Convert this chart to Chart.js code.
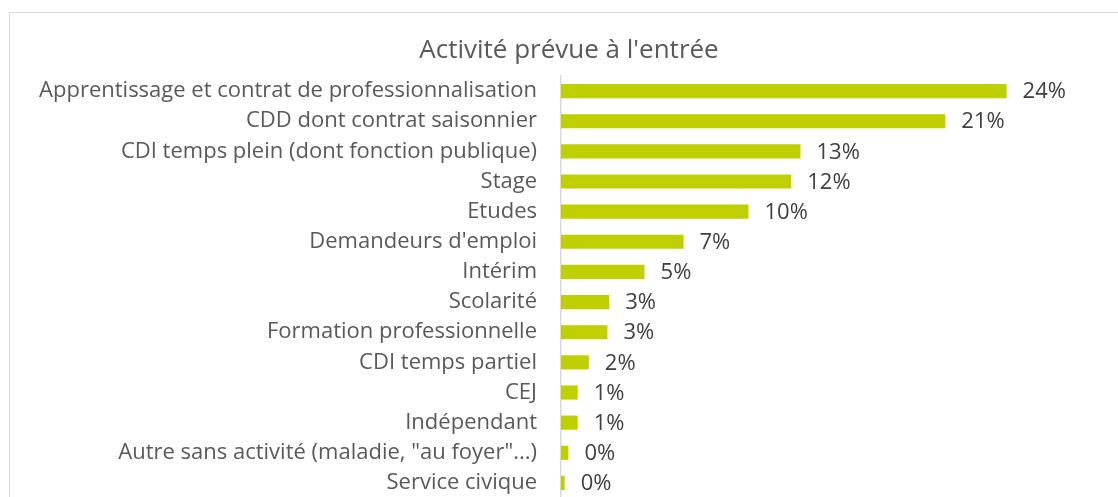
<!DOCTYPE html>
<html><head><meta charset="utf-8">
<script src="https://cdn.jsdelivr.net/npm/chart.js@4.4.1/dist/chart.umd.min.js"></script>
<style>
html,body{margin:0;padding:0;background:#fff;overflow:hidden;width:1118px;height:497px;}
#frame{position:absolute;left:9px;top:12px;width:1130px;height:520px;border:1.5px solid #d9d9d9;box-sizing:border-box;}
#wrap{position:absolute;left:0;top:0;width:1118px;height:498px;}
</style></head><body>
<div id="frame"></div>
<div id="wrap"><canvas id="c"></canvas></div>
<script>
const categories = ["Apprentissage et contrat de professionnalisation","CDD dont contrat saisonnier","CDI temps plein (dont fonction publique)","Stage","Etudes","Demandeurs d'emploi","Intérim","Scolarité","Formation professionnelle","CDI temps partiel","CEJ","Indépendant","Autre sans activité (maladie, \"au foyer\"...)","Service civique"];
const values = [24.0, 20.7, 12.9, 12.4, 10.1, 6.6, 4.5, 2.6, 2.5, 1.5, 0.9, 0.9, 0.4, 0.2];
const titleText = "Activité prévue à l'entrée";
const FONT = "'Open Sans', 'Noto Sans', sans-serif";

const valueLabels = {
  id: 'valueLabels',
  afterDatasetsDraw(chart) {
    const ctx = chart.ctx;
    const meta = chart.getDatasetMeta(0);
    ctx.save();
    ctx.font = "22px " + FONT;
    ctx.fillStyle = "#404040";
    ctx.textBaseline = "middle";
    ctx.textAlign = "left";
    meta.data.forEach((bar, i) => {
      ctx.fillText(Math.round(values[i]) + "%", bar.x + 16, bar.y + 1);
    });
    ctx.restore();
  }
};

new Chart(document.getElementById('c'), {
  type: 'bar',
  data: { labels: categories, datasets: [{ data: values, backgroundColor: '#C0CF00', barPercentage: 0.47, categoryPercentage: 1 }] },
  options: {
    indexAxis: 'y', responsive: true, maintainAspectRatio: false, animation: false, devicePixelRatio: 1,
    layout: { padding: { left: 20, right: 0, top: 0, bottom: 0 } },
    plugins: {
      legend: { display: false }, tooltip: { enabled: false },
      title: { display: true, text: titleText, color: '#595959', font: { family: FONT, size: 26, weight: 'normal', lineHeight: 1.2 }, padding: { top: 35, bottom: 9.8 } }
    },
    scales: {
      x: { display: false, min: 0, max: 30 },
      y: {
        afterFit(s) { s.width = 541; s.paddingTop = 0; s.paddingBottom = 0; },
        grid: { display: false, drawTicks: false },
        border: { display: true, color: '#d9d9d9', width: 1.5 },
        ticks: { color: '#595959', padding: 24, autoSkip: false, font: { family: FONT, size: 22 } }
      }
    }
  },
  plugins: [valueLabels]
});
</script>
</body></html>
